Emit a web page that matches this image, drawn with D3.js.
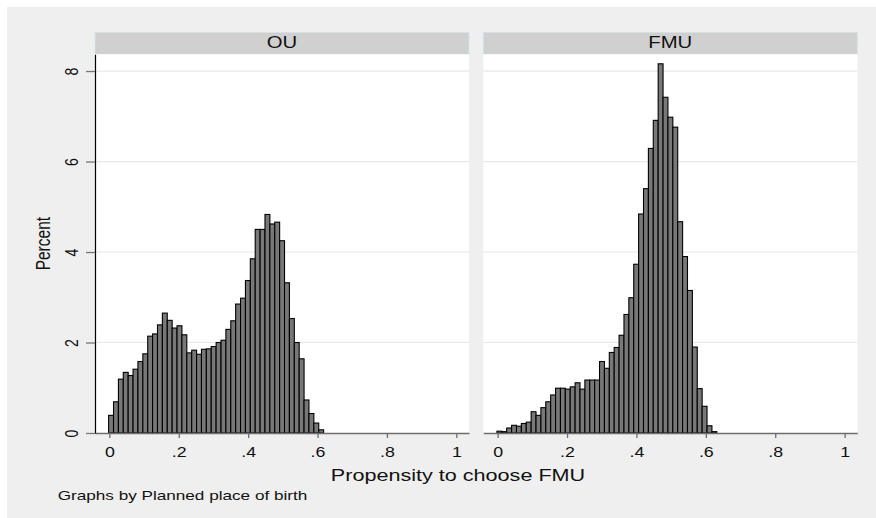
<!DOCTYPE html>
<html>
<head>
<meta charset="utf-8">
<script src="https://cdn.jsdelivr.net/npm/d3@7"></script>
<style>
  body { margin: 0; background: #fff; }
  text { font-family: "Liberation Sans", Arial, sans-serif; fill: #111; }
</style>
</head>
<body>
<div id="chart"></div>
<script>

// histogram bins (same bins in both panels)
var binStart = -0.002,
    binWidth = 0.01408;

// percent in each bin
var ouPercent = [0.39, 0.69, 1.19, 1.34, 1.27, 1.41, 1.58, 1.75, 2.14, 2.19,
                 2.39, 2.65, 2.49, 2.32, 2.37, 2.17, 1.77, 1.83, 1.74, 1.85,
                 1.86, 1.91, 2.00, 2.05, 2.29, 2.48, 2.85, 2.98, 3.37, 3.85,
                 4.50, 4.50, 4.83, 4.62, 4.66, 4.25, 3.32, 2.53, 2.00, 1.64,
                 0.73, 0.43, 0.22, 0.07];

var fmuPercent = [0.04, 0.03, 0.11, 0.17, 0.15, 0.21, 0.24, 0.47, 0.39, 0.56,
                  0.69, 0.84, 0.99, 0.99, 0.97, 1.02, 1.11, 0.97, 1.17, 1.17,
                  1.17, 1.58, 1.43, 1.78, 1.89, 2.16, 2.62, 2.99, 3.73, 4.84,
                  5.40, 6.29, 6.91, 8.16, 7.42, 6.98, 6.76, 4.67, 3.90, 3.15,
                  1.90, 0.98, 0.59, 0.16, 0.03];

var panelNames = ["OU", "FMU"];
var xTicks = [0, 0.2, 0.4, 0.6, 0.8, 1];
var yTicks = [0, 2, 4, 6, 8];

var W = 876, H = 518;
var sx = 1.27; // the original image is stretched sideways, so is the text

var svg = d3.select("#chart").append("svg")
    .attr("width", W)
    .attr("height", H);

// grey graph region
svg.append("rect")
    .attr("x", 7).attr("y", 7)
    .attr("width", W - 7).attr("height", H - 7)
    .attr("fill", "#efefef");

var plotTop = 54.3, plotBottom = 433, panelW = 374;
var panelX = [95, 483.3];

var y = d3.scaleLinear()
    .domain([0, 8.37])
    .range([plotBottom, plotTop]);

var fmtX = function (d) {
    if (d === 0) return "0";
    if (d === 1) return "1";
    return String(d).replace("0.", ".");
};

[ouPercent, fmuPercent].forEach(function (vals, p) {
    var x0 = panelX[p];
    var x = d3.scaleLinear()
        .domain([-0.0413, 1.0365])
        .range([x0, x0 + panelW]);

    // header strip
    svg.append("rect")
        .attr("x", x0).attr("y", 32.3)
        .attr("width", panelW).attr("height", plotTop - 32.3)
        .attr("fill", "#d0d0d0")
        .attr("stroke", "#d8e3e8")
        .attr("stroke-width", 0.8);

    svg.append("text")
        .attr("transform", "translate(" + (x0 + panelW / 2) + ",48.3) scale(" + sx + ",1)")
        .attr("text-anchor", "middle")
        .style("font-size", "16px")
        .text(panelNames[p]);

    // plot area
    svg.append("rect")
        .attr("x", x0).attr("y", plotTop)
        .attr("width", panelW).attr("height", plotBottom - plotTop)
        .attr("fill", "#fff");

    // gridlines
    svg.append("g").selectAll("line")
        .data(yTicks.filter(function (d) { return d > 0; }))
        .enter().append("line")
        .attr("x1", x0).attr("x2", x0 + panelW)
        .attr("y1", function (d) { return y(d); })
        .attr("y2", function (d) { return y(d); })
        .attr("stroke", "#e8e8e8")
        .attr("stroke-width", 1.2);

    // bars
    svg.append("g").selectAll("rect")
        .data(vals)
        .enter().append("rect")
        .attr("x", function (d, i) { return x(binStart + i * binWidth); })
        .attr("width", x(binWidth) - x(0))
        .attr("y", function (d) { return y(d); })
        .attr("height", function (d) { return y(0) - y(d); })
        .attr("fill", "#787878")
        .attr("stroke", "#000")
        .attr("stroke-width", 1.1);

    // x axis
    var gx = svg.append("g")
        .attr("transform", "translate(0," + plotBottom + ")")
        .call(d3.axisBottom(x).tickValues(xTicks).tickFormat(fmtX)
            .tickSize(5).tickSizeOuter(0));
    gx.select(".domain").attr("stroke", "#6e6e6e").attr("stroke-width", 1.3);
    gx.selectAll(".tick line").attr("stroke", "#6e6e6e").attr("stroke-width", 1.3);
    gx.selectAll(".tick text")
        .attr("y", null).attr("dy", null)
        .attr("transform", "translate(0,24.3) scale(" + sx + ",1)")
        .style("font-size", "14px")
        .style("font-family", "Liberation Sans, Arial, sans-serif")
        .attr("fill", "#111");

    // y axis only on the first panel
    if (p === 0) {
        var gy = svg.append("g")
            .attr("transform", "translate(" + x0 + ",0)")
            .call(d3.axisLeft(y).tickValues(yTicks).tickSize(9).tickSizeOuter(0));
        gy.select(".domain").attr("stroke", "#000").attr("stroke-width", 1.2);
        gy.selectAll(".tick line").attr("stroke", "#777").attr("stroke-width", 1.3);
        gy.selectAll(".tick text")
            .attr("x", null).attr("dy", null)
            .attr("text-anchor", "middle")
            .attr("transform", "translate(-16.7,0) scale(" + sx + ",1) rotate(-90)")
            .style("font-size", "14px")
            .style("font-family", "Liberation Sans, Arial, sans-serif")
            .attr("fill", "#111");
    }
});

// axis titles and note
svg.append("text")
    .attr("transform", "translate(50," + ((plotTop + plotBottom) / 2) + ") scale(" + sx + ",1) rotate(-90)")
    .attr("text-anchor", "middle")
    .style("font-size", "15.5px")
    .text("Percent");

svg.append("text")
    .attr("transform", "translate(458,481) scale(" + sx + ",1)")
    .attr("text-anchor", "middle")
    .style("font-size", "17px")
    .text("Propensity to choose FMU");

svg.append("text")
    .attr("transform", "translate(57.7,500) scale(" + sx + ",1)")
    .style("font-size", "13.5px")
    .text("Graphs by Planned place of birth");

</script>
</body>
</html>
